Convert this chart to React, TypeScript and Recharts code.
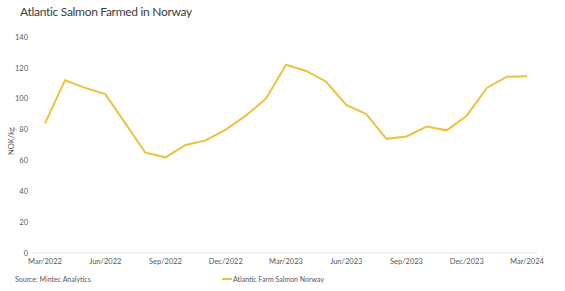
import { LineChart, Line, XAxis, YAxis, Legend } from 'recharts';

const months = [
  'Mar/2022', 'Apr/2022', 'May/2022', 'Jun/2022', 'Jul/2022', 'Aug/2022', 'Sep/2022',
  'Oct/2022', 'Nov/2022', 'Dec/2022', 'Jan/2023', 'Feb/2023', 'Mar/2023', 'Apr/2023',
  'May/2023', 'Jun/2023', 'Jul/2023', 'Aug/2023', 'Sep/2023', 'Oct/2023', 'Nov/2023',
  'Dec/2023', 'Jan/2024', 'Feb/2024', 'Mar/2024',
];

const salmonPrices = [
  84, 112, 107, 103, 84, 65, 62, 70, 73, 80, 89, 100, 122, 118, 111, 96, 90, 74, 75.5,
  82, 79.5, 89, 107, 114.3, 114.5,
];

const xTicks = [
  'Mar/2022', 'Jun/2022', 'Sep/2022', 'Dec/2022', 'Mar/2023', 'Jun/2023', 'Sep/2023',
  'Dec/2023', 'Mar/2024',
];
const yTicks = [0, 20, 40, 60, 80, 100, 120, 140];

const seriesName = 'Atlantic Farm Salmon Norway';
const lineColor = '#EEC23E';
const textColor = '#595959';
const font = 'Lato, "Open Sans", sans-serif';

const data = months.map((m, i) => ({ month: m, price: salmonPrices[i] }));

function LegendContent() {
  return (
    <div style={{ display: 'flex', alignItems: 'center', fontFamily: font, fontSize: 7, color: textColor }}>
      <div style={{ width: 10, height: 1.5, background: lineColor, marginRight: 1 }} />
      <span>{seriesName}</span>
    </div>
  );
}

export default function App() {
  return (
    <div style={{ position: 'absolute', left: 0, top: 0, width: 565, height: 291, background: '#fff' }}>
      <div
        style={{
          position: 'absolute',
          left: 20,
          top: 4,
          fontFamily: font,
          fontSize: 12,
          letterSpacing: -0.3,
          color: '#404040',
          whiteSpace: 'nowrap',
        }}
      >
        Atlantic Salmon Farmed in Norway
      </div>
      <div
        style={{
          position: 'absolute',
          left: 15,
          top: 275,
          fontFamily: font,
          fontSize: 7,
          color: textColor,
          whiteSpace: 'nowrap',
        }}
      >
        Source: Mintec Analytics
      </div>
      <LineChart
        width={565}
        height={291}
        data={data}
        margin={{ top: 37, right: 28, left: 0, bottom: 18 }}
      >
        <XAxis
          dataKey="month"
          ticks={xTicks}
          interval={0}
          padding={{ left: 12, right: 10 }}
          tickLine={false}
          tickSize={4}
          tickMargin={2}
          height={12}
          axisLine={{ stroke: '#e3e3e3' }}
          tick={{ fill: textColor, fontSize: 7.5, fontFamily: font }}
        />
        <YAxis
          domain={[0, 140]}
          ticks={yTicks}
          width={33}
          axisLine={false}
          tickLine={false}
          tickSize={3}
          tickMargin={2}
          tick={{ fill: textColor, fontSize: 7.5, fontFamily: font }}
          label={{
            value: 'NOK/kg',
            angle: -90,
            position: 'center',
            dx: -5,
            dy: -4,
            fill: textColor,
            fontSize: 7.5,
            fontFamily: font,
          }}
        />
        <Legend
          content={<LegendContent />}
          wrapperStyle={{ position: 'absolute', left: 222, top: 275, width: 'auto' }}
        />
        <Line
          type="linear"
          dataKey="price"
          name={seriesName}
          stroke={lineColor}
          strokeWidth={2}
          dot={false}
          isAnimationActive={false}
        />
      </LineChart>
    </div>
  );
}
